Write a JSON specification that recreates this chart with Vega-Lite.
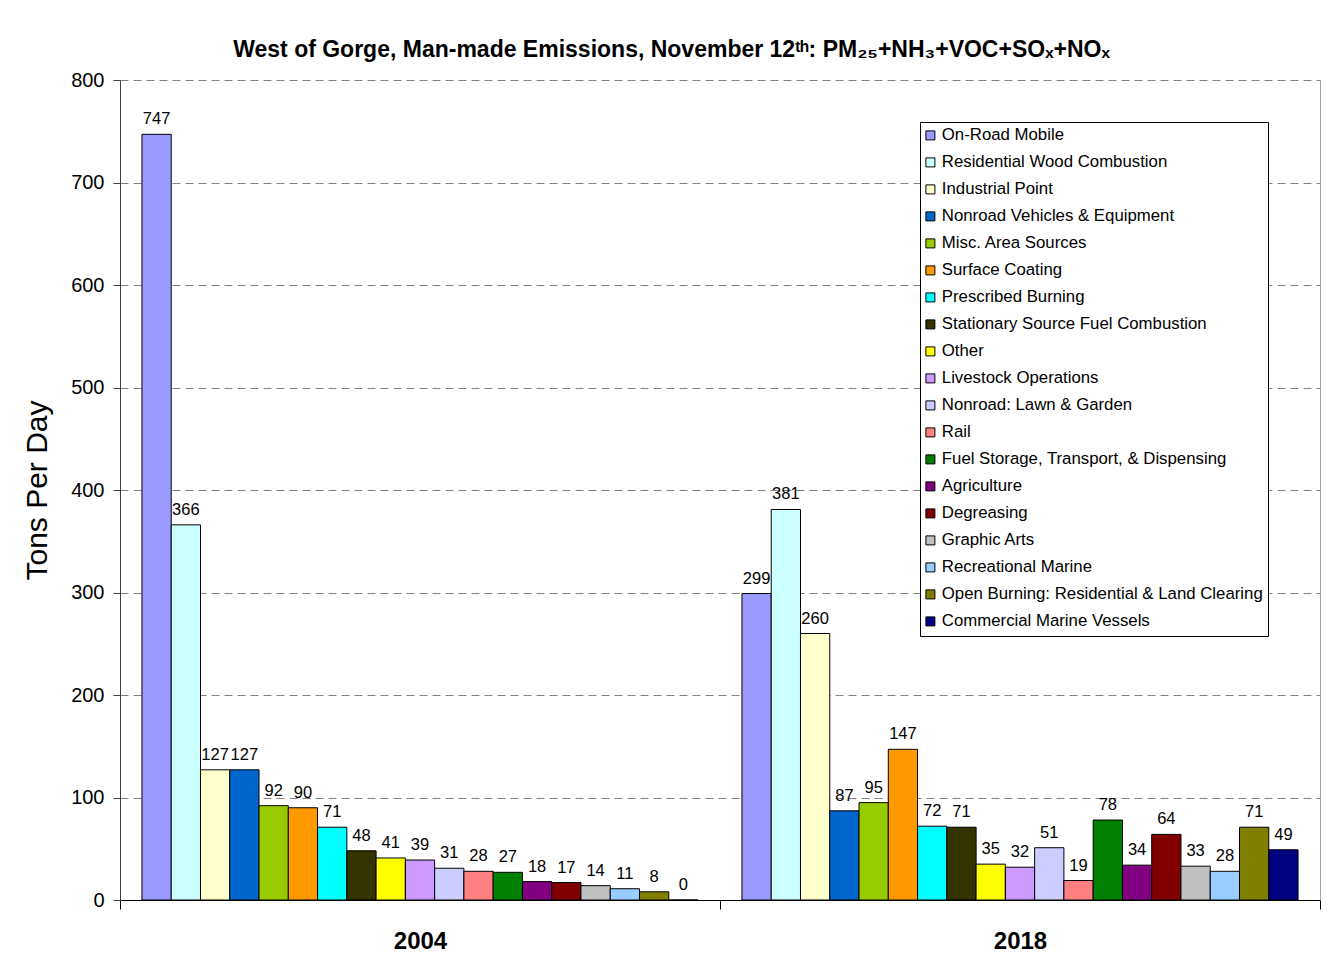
{
  "$schema": "https://vega.github.io/schema/vega-lite/v6.json",
  "autosize": {"type": "none"},
  "padding": {"left": 120, "top": 80, "right": 13, "bottom": 80},
  "width": 1200,
  "height": 820,
  "background": "white",
  "config": {
    "font": "Liberation Sans",
    "view": {"stroke": null},
    "axis": {"labelFont": "Liberation Sans", "titleFont": "Liberation Sans", "labelColor": "black", "titleColor": "black"}
  },
  "title": {
    "text": "West of Gorge, Man-made Emissions, November 12ᵗʰ: PM₂₅+NH₃+VOC+SOₓ+NOₓ",
    "fontSize": 23,
    "fontWeight": "bold",
    "font": "Liberation Sans",
    "color": "black",
    "anchor": "middle",
    "frame": "bounds",
    "offset": 8
  },
  "data": {
    "values": [
      {"year": "2004", "source": "On-Road Mobile", "value": 747},
      {"year": "2004", "source": "Residential Wood Combustion", "value": 366},
      {"year": "2004", "source": "Industrial Point", "value": 127},
      {"year": "2004", "source": "Nonroad Vehicles & Equipment", "value": 127},
      {"year": "2004", "source": "Misc. Area Sources", "value": 92},
      {"year": "2004", "source": "Surface Coating", "value": 90},
      {"year": "2004", "source": "Prescribed Burning", "value": 71},
      {"year": "2004", "source": "Stationary Source Fuel Combustion", "value": 48},
      {"year": "2004", "source": "Other", "value": 41},
      {"year": "2004", "source": "Livestock Operations", "value": 39},
      {"year": "2004", "source": "Nonroad: Lawn & Garden", "value": 31},
      {"year": "2004", "source": "Rail", "value": 28},
      {"year": "2004", "source": "Fuel Storage, Transport, & Dispensing", "value": 27},
      {"year": "2004", "source": "Agriculture", "value": 18},
      {"year": "2004", "source": "Degreasing", "value": 17},
      {"year": "2004", "source": "Graphic Arts", "value": 14},
      {"year": "2004", "source": "Recreational Marine", "value": 11},
      {"year": "2004", "source": "Open Burning: Residential & Land Clearing", "value": 8},
      {"year": "2004", "source": "Commercial Marine Vessels", "value": 0},
      {"year": "2018", "source": "On-Road Mobile", "value": 299},
      {"year": "2018", "source": "Residential Wood Combustion", "value": 381},
      {"year": "2018", "source": "Industrial Point", "value": 260},
      {"year": "2018", "source": "Nonroad Vehicles & Equipment", "value": 87},
      {"year": "2018", "source": "Misc. Area Sources", "value": 95},
      {"year": "2018", "source": "Surface Coating", "value": 147},
      {"year": "2018", "source": "Prescribed Burning", "value": 72},
      {"year": "2018", "source": "Stationary Source Fuel Combustion", "value": 71},
      {"year": "2018", "source": "Other", "value": 35},
      {"year": "2018", "source": "Livestock Operations", "value": 32},
      {"year": "2018", "source": "Nonroad: Lawn & Garden", "value": 51},
      {"year": "2018", "source": "Rail", "value": 19},
      {"year": "2018", "source": "Fuel Storage, Transport, & Dispensing", "value": 78},
      {"year": "2018", "source": "Agriculture", "value": 34},
      {"year": "2018", "source": "Degreasing", "value": 64},
      {"year": "2018", "source": "Graphic Arts", "value": 33},
      {"year": "2018", "source": "Recreational Marine", "value": 28},
      {"year": "2018", "source": "Open Burning: Residential & Land Clearing", "value": 71},
      {"year": "2018", "source": "Commercial Marine Vessels", "value": 49}
    ]
  },
  "encoding": {
    "x": {
      "field": "year", "type": "nominal",
      "scale": {"paddingInner": 0, "paddingOuter": 0},
      "axis": {
        "title": null, "labelAngle": 0, "labelFontSize": 24, "labelFontWeight": "bold",
        "tickBand": "extent", "tickSize": 9, "labelPadding": 20,
        "domainColor": "black", "tickColor": "black", "domainWidth": 1.2
      }
    },
    "xOffset": {
      "field": "source", "type": "nominal",
      "sort": ["On-Road Mobile", "Residential Wood Combustion", "Industrial Point", "Nonroad Vehicles & Equipment", "Misc. Area Sources", "Surface Coating", "Prescribed Burning", "Stationary Source Fuel Combustion", "Other", "Livestock Operations", "Nonroad: Lawn & Garden", "Rail", "Fuel Storage, Transport, & Dispensing", "Agriculture", "Degreasing", "Graphic Arts", "Recreational Marine", "Open Burning: Residential & Land Clearing", "Commercial Marine Vessels"],
      "scale": {"paddingInner": 0, "paddingOuter": 0.75}
    },
    "y": {
      "field": "value", "type": "quantitative",
      "scale": {"domain": [0, 800], "nice": false}
    }
  },
  "layer": [
    {
      "mark": {"type": "bar", "stroke": "black", "strokeWidth": 1},
      "encoding": {
        "y": {
          "field": "value", "type": "quantitative",
          "axis": {
            "title": "Tons Per Day", "titleFontSize": 30, "titleFontWeight": "normal", "titlePadding": 18,
            "labelFontSize": 20, "tickSize": 7, "labelPadding": 9, "values": [0, 100, 200, 300, 400, 500, 600, 700, 800],
            "labelOverlap": false,
            "domainColor": "#404040", "tickColor": "#404040",
            "grid": true, "gridDash": [8, 5], "gridColor": "#808080", "gridWidth": 1
          }
        },
        "color": {
          "field": "source", "type": "nominal",
          "scale": {
            "domain": ["On-Road Mobile", "Residential Wood Combustion", "Industrial Point", "Nonroad Vehicles & Equipment", "Misc. Area Sources", "Surface Coating", "Prescribed Burning", "Stationary Source Fuel Combustion", "Other", "Livestock Operations", "Nonroad: Lawn & Garden", "Rail", "Fuel Storage, Transport, & Dispensing", "Agriculture", "Degreasing", "Graphic Arts", "Recreational Marine", "Open Burning: Residential & Land Clearing", "Commercial Marine Vessels"],
            "range": ["#9999FF", "#CCFFFF", "#FFFFCC", "#0066CC", "#99CC00", "#FF9900", "#00FFFF", "#333300", "#FFFF00", "#CC99FF", "#CCCCFF", "#FF8080", "#008000", "#800080", "#800000", "#C0C0C0", "#99CCFF", "#808000", "#000080"]
          },
          "legend": {
            "title": null, "orient": "none", "legendX": 800, "legendY": 42,
            "strokeColor": "black", "fillColor": "white", "padding": 5,
            "symbolType": "square", "symbolSize": 81, "symbolStrokeColor": "black", "symbolStrokeWidth": 1,
            "symbolOffset": -3,
            "labelFontSize": 16.8, "labelFont": "Liberation Sans", "labelColor": "black",
            "rowPadding": 9, "labelOffset": 3, "labelLimit": 400
          }
        }
      }
    },
    {
      "mark": {"type": "text", "baseline": "alphabetic", "dy": -10, "fontSize": 16.5, "color": "black", "font": "Liberation Sans"},
      "encoding": {
        "text": {"field": "value", "type": "quantitative"},
        "y": {
          "field": "value", "type": "quantitative",
          "axis": {"orient": "right", "labels": false, "ticks": false, "grid": false, "title": null, "domainColor": "#a0a0a0"}
        }
      }
    }
  ],
  "resolve": {"axis": {"y": "independent"}}
}
